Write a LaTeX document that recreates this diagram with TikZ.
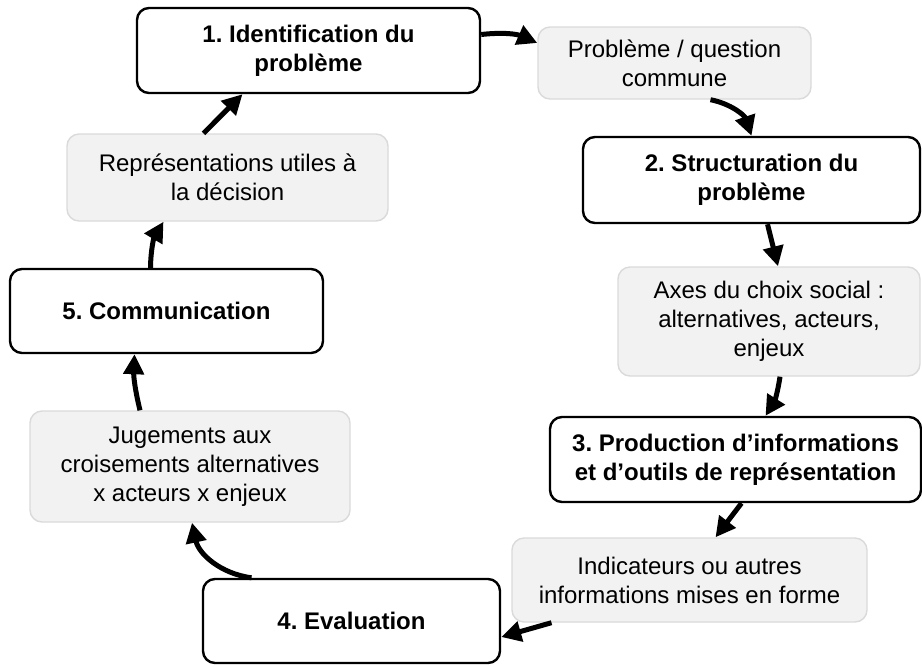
\documentclass[tikz,border=0pt]{standalone}
\usepackage{fontspec}
\setmainfont{Liberation Sans}
\frenchspacing
\usetikzlibrary{arrows.meta}

\definecolor{boxfill}{HTML}{F2F2F2}
\definecolor{boxline}{HTML}{DADADA}

\tikzset{
  stepbox/.style={draw=black, line width=1.2pt, fill=white, rounded corners=6pt,
    align=center, inner sep=0pt, font=\fontsize{12}{14.5}\selectfont\bfseries},
  outbox/.style={draw=boxline, line width=0.7pt, fill=boxfill, rounded corners=6pt,
    align=center, inner sep=0pt, font=\fontsize{12}{14.5}\selectfont},
  flow/.style={-{Triangle[length=10pt,width=10pt]}, line width=2.5pt}
}

\begin{document}
\begin{tikzpicture}[x=0.5pt, y=-0.5pt]
\useasboundingbox (0,0) rectangle (922,666);

% steps
\node[stepbox, minimum width=171.5pt, minimum height=42.5pt] (ident) at (308.5,50.5) {1. Identification du\\probl\`eme};
\node[stepbox, minimum width=168.5pt, minimum height=43pt] (struct) at (751.5,180) {2. Structuration du\\probl\`eme};
\node[stepbox, minimum width=185.5pt, minimum height=42.5pt] (prod) at (735.5,459.5) {3. Production d'informations\\et d'outils de repr\'esentation};
\node[stepbox, minimum width=148.5pt, minimum height=42pt] (eval) at (351.5,621) {4. Evaluation};
\node[stepbox, minimum width=156.5pt, minimum height=42pt] (comm) at (166.5,311) {5. Communication};

% outputs
\node[outbox, minimum width=136.5pt, minimum height=36pt] (quest) at (674.5,63) {Probl\`eme / question\\commune};
\node[outbox, minimum width=151pt, minimum height=54.5pt] (axes) at (769,321.5) {Axes du choix social :\\alternatives, acteurs,\\enjeux};
\node[outbox, minimum width=177.5pt, minimum height=42pt] (indic) at (689.5,580) {Indicateurs ou autres\\informations mises en forme};
\node[outbox, minimum width=160pt, minimum height=55.5pt] (juge) at (190,466.5) {Jugements aux\\croisements alternatives\\x acteurs x enjeux};
\node[outbox, minimum width=160.5pt, minimum height=43.5pt] (repr) at (227.5,177.5) {Repr\'esentations utiles \`a\\la d\'ecision};

% cycle
\draw[flow] ([yshift=8pt]ident.east) to[bend left=15] ([yshift=10pt]quest.west);
\draw[flow] ([xshift=18pt]quest.south) to[bend left=30] (struct.north);
\draw[flow] ([xshift=8pt]struct.south) -- ([xshift=4.5pt]axes.north);
\draw[flow] ([xshift=5.5pt]axes.south) to[bend left=12] ([xshift=15pt]prod.north);
\draw[flow] ([xshift=3pt]prod.south) -- ([xshift=13pt]indic.south |- indic.north);
\draw[flow] ([xshift=-69pt]indic.south) -- ([yshift=-8pt]eval.east);
\draw[flow] ([xshift=-50pt]eval.north) to[bend left=35] ([xshift=1pt]juge.south);
\draw[flow] ([xshift=-25pt]juge.north) to[bend left=8] ([xshift=-16pt]comm.south);
\draw[flow] ([xshift=-8pt]comm.north) to[bend left=15] ([xshift=-32pt]repr.south);
\draw[flow] ([xshift=-12pt]repr.north) -- ([xshift=-33pt]ident.south);
\end{tikzpicture}
\end{document}
